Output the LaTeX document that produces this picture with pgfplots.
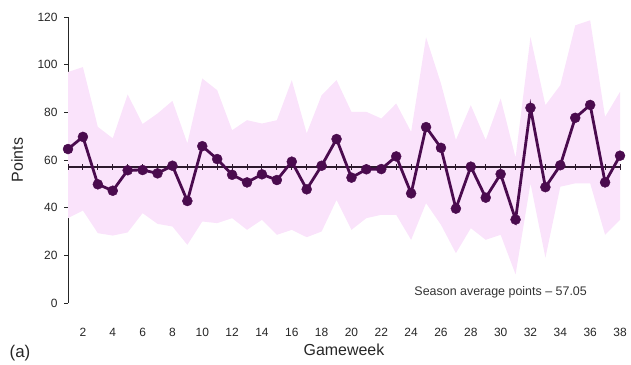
\documentclass[border=0pt]{standalone}
\usepackage{pgfplots}
\pgfplotsset{compat=1.18}
\usepackage{pgfplotstable}
\usepgfplotslibrary{fillbetween}
\usepackage{fontspec}
\setmainfont{Liberation Sans}
\definecolor{bandc}{RGB}{250,227,251}
\definecolor{linec}{RGB}{74,11,78}
\definecolor{meanc}{RGB}{45,25,45}

\pgfplotstableread{
x y lo hi m
1 64.6 35.6 96.9 57.05
2 69.7 38.8 99.0 57.05
3 49.8 29.3 73.9 57.05
4 47.1 28.3 69.1 57.05
5 55.7 29.6 87.5 57.05
6 55.8 37.7 75.1 57.05
7 54.4 33.2 79.5 57.05
8 57.6 32.1 84.8 57.05
9 42.8 24.4 67.0 57.05
10 65.8 34.2 94.2 57.05
11 60.4 33.5 89.3 57.05
12 53.8 35.6 72.5 57.05
13 50.6 30.7 76.7 57.05
14 54.0 34.9 75.3 57.05
15 51.6 28.6 76.7 57.05
16 59.3 30.7 93.5 57.05
17 47.7 27.6 71.2 57.05
18 57.6 30.0 87.2 57.05
19 68.8 43.2 93.5 57.05
20 52.6 30.7 80.2 57.05
21 56.1 35.6 80.2 57.05
22 56.2 37.0 77.4 57.05
23 61.5 37.0 83.7 57.05
24 46.0 26.5 71.8 57.05
25 73.8 41.9 111.5 57.05
26 65.1 32.8 92.1 57.05
27 39.6 20.9 68.4 57.05
28 57.2 31.4 83.0 57.05
29 44.2 26.5 68.4 57.05
30 54.1 28.6 85.8 57.05
31 35.0 12.0 61.0 57.05
32 81.9 50.2 111.6 57.05
33 48.6 19.0 83.0 57.05
34 57.8 48.8 91.4 57.05
35 77.7 50.2 116.5 57.05
36 83.1 50.2 118.6 57.05
37 50.6 28.6 78.1 57.05
38 61.8 34.9 88.6 57.05
}\data

\begin{document}
\begin{tikzpicture}
\begin{axis}[
  at={(68bp,61bp)}, anchor=south west,
  scale only axis, width=552bp, height=286bp,
  xmin=1, xmax=38, ymin=0, ymax=120, clip=false,
  axis y line*=left, axis x line*=bottom,
  x axis line style={draw=none},
  y axis line style={line width=0.9bp, black!85},
  xtick={2,4,...,38}, ytick={0,20,...,120},
  xtick style={draw=none},
  ytick style={line width=0.8bp, black!85},
  tick align=outside, major tick length=4bp,
  tick label style={font=\fontsize{12}{14}\selectfont, text=black!85},
  xticklabel style={yshift=-18bp},
  yticklabel style={xshift=-3bp},
  /pgf/number format/assume math mode=true,
  xlabel={Gameweek}, ylabel={Points},
  every axis x label/.style={at={(axis description cs:0.5,-0.165)},anchor=center,font=\fontsize{16}{19}\selectfont, text=black!85},
  every axis y label/.style={at={(axis description cs:-0.092,0.5)},anchor=center,rotate=90,font=\fontsize{16}{19}\selectfont, text=black!85},
]
\addplot[name path=hi, draw=none, forget plot] table[x=x,y=hi]{\data};
\addplot[name path=lo, draw=none, forget plot] table[x=x,y=lo]{\data};
\addplot[bandc, draw=none] fill between[of=hi and lo];
\addplot[meanc, line width=1.2bp, mark=|, mark size=3bp, mark options={line width=1bp}] table[x=x,y=m]{\data};
\addplot[linec, line width=2.8bp, mark=*, mark size=5bp, mark options={line width=0.4bp}] table[x=x,y=y]{\data};
\node[font=\fontsize{12.5}{14}\selectfont, text=black!80] at (axis cs:30,4.7) {Season average points \textendash\ 57.05};
\node[font=\fontsize{17}{19}\selectfont, text=black!85] at (axis description cs:-0.087,-0.175) {(a)};
\end{axis}
\path (0,0) rectangle (631bp,364bp);
\end{tikzpicture}
\end{document}
